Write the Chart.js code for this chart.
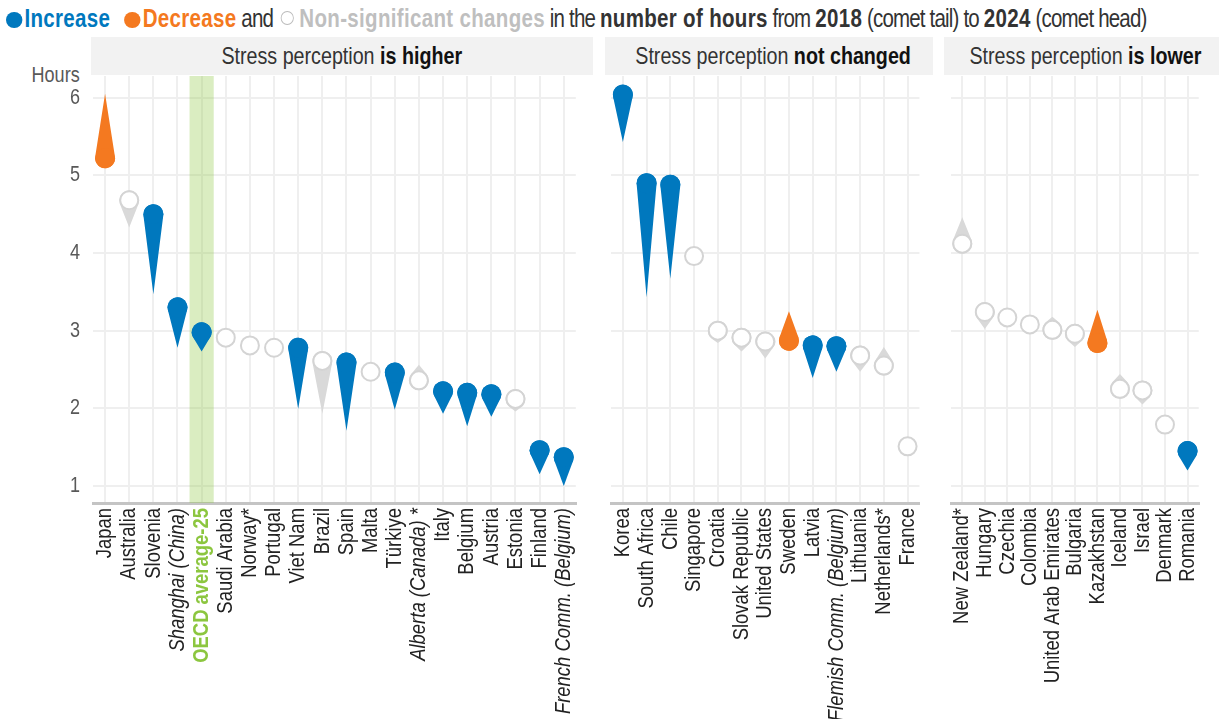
<!DOCTYPE html>
<html>
<head>
<meta charset="utf-8">
<script src="https://cdn.jsdelivr.net/npm/chart.js@4.4.1/dist/chart.umd.min.js"></script>
<style>
    body { margin: 0; width: 1220px; height: 719px; background: #fff; position: relative; overflow: hidden;
           font-family: "Liberation Sans Narrow", "Arial Narrow", "Liberation Sans", sans-serif; }
    /* sin fuente estrecha instalada: se comprime el texto a lo ancho */
    .estrecho { display: inline-block; transform: scaleX(0.82); white-space: nowrap; }
    #titulo { position: absolute; left: 6px; top: 3px; font-size: 25px; line-height: 30px; color: #333; white-space: nowrap; letter-spacing: -1px; }
    #titulo .estrecho { transform-origin: 0 0; }
    #titulo b { color: #333; letter-spacing: 0.4px; }
    .punto { display: inline-block; width: 19.5px; height: 16px; border-radius: 50%; vertical-align: -1px; margin-right: 3px; }
    .hueco { display: inline-block; width: 14px; height: 12px; border-radius: 50%; border: 1.5px solid #bbb; vertical-align: 2px; margin: 0 7px 0 9px; }
    .cabecera { position: absolute; top: 37px; height: 38px; background: #f2f2f2; text-align: center; line-height: 38px;
                font-size: 24px; color: #333; white-space: nowrap; overflow: hidden; }
    .cabecera .estrecho { transform-origin: 50% 50%; }
    .cabecera b { color: #111; }
    #horas { position: absolute; left: 10px; width: 70px; text-align: right; top: 62px; font-size: 22px; color: #595959; }
    #horas .estrecho { transform-origin: 100% 50%; }
    canvas { position: absolute; top: 0; }
</style>
</head>
<body>
<div id="titulo"><span class="estrecho"><span class="punto" style="background:#0078be"></span><b style="color:#0078be">Increase</b><span class="punto" style="background:#f47920;margin-left:17px"></span><b style="color:#f47920">Decrease</b> and<span class="hueco"></span><b style="color:#bfbfbf">Non-significant changes</b> in the <b>number of hours</b> from <b>2018</b> (comet tail) to <b>2024</b> (comet head)</span></div>
<div class="cabecera" style="left:91px;width:502px"><span class="estrecho">Stress perception <b>is higher</b></span></div>
<div class="cabecera" style="left:605px;width:328px"><span class="estrecho">Stress perception <b>not changed</b></span></div>
<div class="cabecera" style="left:944px;width:275px"><span class="estrecho">Stress perception <b>is lower</b></span></div>
<div id="horas"><span class="estrecho">Hours</span></div>

<canvas id="chart-mayor" width="596" height="719" style="left:0px"></canvas>
<canvas id="chart-igual" width="340" height="719" style="left:600px"></canvas>
<canvas id="chart-menor" width="280" height="719" style="left:940px"></canvas>

<script>
// Datos: horas en 2018 (cola) y 2024 (cabeza)
const mayorPaises = ['Japan', 'Australia', 'Slovenia', 'Shanghai (China)', 'OECD average-25', 'Saudi Arabia', 'Norway*', 'Portugal',
    'Viet Nam', 'Brazil', 'Spain', 'Malta', 'Türkiye', 'Alberta (Canada) *', 'Italy', 'Belgium', 'Austria', 'Estonia', 'Finland',
    'French Comm. (Belgium)'];
const mayor2018 = [6.05, 4.33, 3.47, 2.78, 2.73, 2.88, 2.84, 2.80, 1.99, 1.93, 1.71, 2.45, 1.98, 2.56, 1.93, 1.77, 1.89, 1.96, 1.15, 1.00];
const mayor2024 = [5.22, 4.68, 4.50, 3.30, 2.98, 2.91, 2.81, 2.78, 2.78, 2.61, 2.59, 2.47, 2.46, 2.36, 2.22, 2.20, 2.18, 2.12, 1.46, 1.37];
const mayorCambio = ['dec', 'ns', 'inc', 'inc', 'inc', 'ns', 'ns', 'ns', 'inc', 'ns', 'inc', 'ns', 'inc', 'ns', 'inc', 'inc', 'inc', 'ns', 'inc', 'inc'];

const igualPaises = ['Korea', 'South Africa', 'Chile', 'Singapore', 'Croatia', 'Slovak Republic', 'United States', 'Sweden', 'Latvia',
    'Flemish Comm. (Belgium)', 'Lithuania', 'Netherlands*', 'France'];
const igual2018 = [5.43, 3.43, 3.67, 3.95, 2.84, 2.73, 2.64, 3.25, 2.39, 2.47, 2.47, 2.79, 1.52];
const igual2024 = [6.04, 4.90, 4.88, 3.96, 3.00, 2.91, 2.86, 2.87, 2.81, 2.80, 2.68, 2.55, 1.51];
const igualCambio = ['inc', 'inc', 'inc', 'ns', 'ns', 'ns', 'ns', 'dec', 'inc', 'inc', 'ns', 'ns', 'ns'];

const menorPaises = ['New Zealand*', 'Hungary', 'Czechia', 'Colombia', 'United Arab Emirates', 'Bulgaria', 'Kazakhstan', 'Iceland',
    'Israel', 'Denmark', 'Romania'];
const menor2018 = [4.46, 3.02, 3.15, 3.07, 3.18, 2.79, 3.27, 2.44, 2.05, 1.78, 1.20];
const menor2024 = [4.12, 3.24, 3.17, 3.08, 3.01, 2.96, 2.84, 2.25, 2.23, 1.79, 1.45];
const menorCambio = ['ns', 'ns', 'ns', 'ns', 'ns', 'ns', 'dec', 'ns', 'ns', 'ns', 'inc'];

const ticksHoras = [1, 2, 3, 4, 5, 6];

const AZUL = '#0078be';
const NARANJA = '#f47920';
const GRIS = '#d9d9d9';
const FUENTE = '"Liberation Sans", Arial, sans-serif';
const ESTRECHO = 0.82;
const ITALICAS = ['Shanghai (China)', 'Alberta (Canada) *', 'French Comm. (Belgium)', 'Flemish Comm. (Belgium)'];
const RADIO = 10;

function colorCambio(c) {
    if (c === 'inc') return AZUL;
    if (c === 'dec') return NARANJA;
    return GRIS;
}

// Cola del cometa: desde el valor 2018 hasta las tangentes del círculo de 2024
function dibujarCola(ctx, x, yCola, yCabeza, r, color) {
    const d = Math.abs(yCola - yCabeza);
    if (d <= r) return;
    const base = yCola > yCabeza ? Math.PI / 2 : -Math.PI / 2;
    const a = Math.acos(r / d);
    ctx.fillStyle = color;
    ctx.beginPath();
    ctx.moveTo(x, yCola);
    ctx.arc(x, yCabeza, r, base + a, base - a + 2 * Math.PI);
    ctx.closePath();
    ctx.fill();
}

const pluginCometas = {
    id: 'cometas',
    beforeDatasetsDraw(chart, args, opts) {
        const ctx = chart.ctx;
        const xs = chart.scales.x;
        const ys = chart.scales.y;
        const area = chart.chartArea;
        ctx.save();
        // franja verde del promedio OCDE
        if (opts.resaltar !== undefined && opts.resaltar >= 0) {
            const paso = xs.getPixelForValue(1) - xs.getPixelForValue(0);
            const xc = xs.getPixelForValue(opts.resaltar);
            ctx.fillStyle = 'rgba(140, 198, 63, 0.32)';
            ctx.fillRect(xc - paso / 2, area.top, paso, area.bottom - area.top);
        }
        const colas = chart.data.datasets[1].data;
        const cabezas = chart.data.datasets[0].data;
        const cambios = opts.cambios;
        for (let i = 0; i < cabezas.length; i++) {
            const x = xs.getPixelForValue(i);
            dibujarCola(ctx, x, ys.getPixelForValue(colas[i]), ys.getPixelForValue(cabezas[i]), RADIO, colorCambio(cambios[i]));
        }
        ctx.restore();
    }
};

// texto comprimido a lo ancho (imita Arial Narrow)
function comprimirTexto(canvas) {
    const c2d = canvas.getContext('2d');
    const original = c2d.fillText;
    c2d.fillText = function(texto, x, y, max) {
        this.save();
        this.translate(x, y);
        this.scale(ESTRECHO, 1);
        original.call(this, texto, 0, 0);
        this.restore();
    };
}

function crearPanel(id, paises, v2018, v2024, cambios, conEje, padIzq, padDer, resaltar) {
    const ctx = document.getElementById(id);
    comprimirTexto(ctx);
    return new Chart(ctx, {
        type: 'line',
        data: {
            labels: paises,
            datasets: [{
                label: '2024',
                data: v2024,
                showLine: false,
                pointRadius: cambios.map(c => c === 'ns' ? 9 : RADIO),
                pointHoverRadius: cambios.map(c => c === 'ns' ? 9 : RADIO),
                pointBackgroundColor: cambios.map(c => c === 'ns' ? '#ffffff' : colorCambio(c)),
                pointBorderColor: cambios.map(c => c === 'ns' ? '#d4d4d4' : colorCambio(c)),
                pointBorderWidth: cambios.map(c => c === 'ns' ? 2 : 0),
                clip: false
            }, {
                label: '2018',
                data: v2018,
                showLine: false,
                pointRadius: 0,
                pointHoverRadius: 0
            }]
        },
        options: {
            responsive: false,
            animation: false,
            layout: { padding: { top: 76, bottom: 0, left: padIzq, right: padDer } },
            plugins: {
                legend: { display: false },
                tooltip: { enabled: false },
                cometas: { cambios: cambios, resaltar: resaltar }
            },
            scales: {
                x: {
                    offset: true,
                    grid: { color: '#efefef', lineWidth: 2, drawTicks: false },
                    border: { color: '#c4c4c4', width: 3 },
                    afterFit: (s) => { s.height = 216; },
                    ticks: {
                        autoSkip: false,
                        minRotation: 90,
                        maxRotation: 90,
                        padding: 5,
                        color: (c) => paises[c.index] === 'OECD average-25' ? '#8cc63f' : '#222',
                        font: (c) => {
                            const p = paises[c.index];
                            return {
                                family: FUENTE,
                                size: 22.5,
                                style: ITALICAS.includes(p) ? 'italic' : 'normal',
                                weight: p === 'OECD average-25' ? 'bold' : 'normal'
                            };
                        }
                    }
                },
                y: {
                    min: 0.78,
                    max: 6.28,
                    afterBuildTicks: (s) => { s.ticks = ticksHoras.map(v => ({ value: v })); },
                    afterFit: (s) => { s.width = conEje ? 93 : 0; },
                    grid: { color: '#efefef', lineWidth: 2, drawTicks: false },
                    border: { display: false },
                    ticks: {
                        display: conEje,
                        padding: 13,
                        color: '#595959',
                        font: { family: FUENTE, size: 22 }
                    }
                }
            }
        },
        plugins: [pluginCometas]
    });
}

document.addEventListener('DOMContentLoaded', function() {
    crearPanel('chart-mayor', mayorPaises, mayor2018, mayor2024, mayorCambio, true, 0, 5.5, 4);
    crearPanel('chart-igual', igualPaises, igual2018, igual2024, igualCambio, false, 7.3, 10, -1);
    crearPanel('chart-menor', menorPaises, menor2018, menor2024, menorCambio, false, 6, 1.5, -1);
});
</script>
</body>
</html>
